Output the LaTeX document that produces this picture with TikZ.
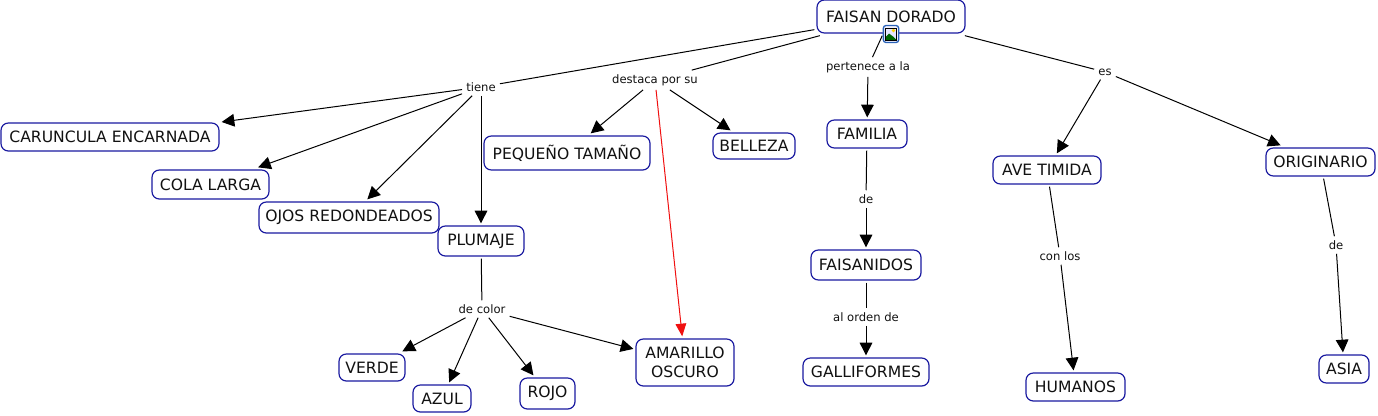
\documentclass[tikz,border=0pt]{standalone}
\usepackage{fontspec}
\setmainfont{DejaVu Sans}
\usepackage{xcolor}
\usetikzlibrary{arrows.meta}
\definecolor{conceptBlue}{HTML}{1A1AA0}
\definecolor{iconBlue}{HTML}{2A62B8}
\definecolor{ink}{HTML}{111111}
\definecolor{linkRed}{HTML}{F01010}

\begin{document}
\begin{tikzpicture}[x=0.75pt,y=-0.75pt,
  concept/.style={draw=conceptBlue,fill=white,line width=0.9pt,rounded corners=5.5pt,align=center,
    font=\fontsize{11.7}{14}\selectfont,text=ink,inner sep=0pt,outer sep=2pt},
  linklabel/.style={font=\fontsize{8.7}{10}\selectfont,text=ink,inner sep=3pt},
  link/.style={draw=black,line width=0.75pt},
  arrowlink/.style={link,-{Triangle[length=9.5pt,width=9.5pt]}},
  redlink/.style={draw=linkRed,line width=0.75pt,-{Triangle[length=9.5pt,width=8pt]}}]
\useasboundingbox (0,0) rectangle (1378,415);
\fill[white] (0,0) rectangle (1378,415);
% link labels
\node[linklabel] (tiene) at (481,87) {tiene};
\node[linklabel] (destaca) at (655,80) {destaca por su};
\node[linklabel] (pertenece) at (868,67) {pertenece a la};
\node[linklabel] (es) at (1105,72) {es};
\node[linklabel] (deFam) at (866,199) {de};
\node[linklabel] (orden) at (866,317) {al orden de};
\node[linklabel] (conLos) at (1060,256) {con los};
\node[linklabel] (deOrig) at (1336,245) {de};
\node[linklabel] (color) at (482,309) {de color};
% concepts
\node[concept,minimum width=111pt,minimum height=24.75pt] (faisan) at (891,16.5) {FAISAN DORADO};
\node[concept,minimum width=163.5pt,minimum height=21pt] (caruncula) at (110,137) {CARUNCULA ENCARNADA};
\node[concept,minimum width=87.75pt,minimum height=21.75pt] (cola) at (210.5,184.5) {COLA LARGA};
\node[concept,minimum width=135pt,minimum height=23.25pt] (ojos) at (349,217.5) {OJOS REDONDEADOS};
\node[concept,minimum width=64.5pt,minimum height=22.5pt] (plumaje) at (481,241) {PLUMAJE};
\node[concept,minimum width=124.5pt,minimum height=25.5pt] (pequeno) at (567,153) {PEQUEÑO TAMAÑO};
\node[concept,minimum width=61.5pt,minimum height=19.5pt] (belleza) at (754,146) {BELLEZA};
\node[concept,minimum width=60pt,minimum height=21pt] (familia) at (867,134) {FAMILIA};
\node[concept,minimum width=82.5pt,minimum height=22.5pt] (faisanidos) at (866,265) {FAISANIDOS};
\node[concept,minimum width=94.5pt,minimum height=21pt] (galliformes) at (866,372) {GALLIFORMES};
\node[concept,minimum width=81pt,minimum height=21pt] (ave) at (1047,170) {AVE TIMIDA};
\node[concept,minimum width=74.25pt,minimum height=21pt] (humanos) at (1075.5,387) {HUMANOS};
\node[concept,minimum width=81.75pt,minimum height=21pt] (originario) at (1320.5,162) {ORIGINARIO};
\node[concept,minimum width=37.5pt,minimum height=21pt] (asia) at (1344,369) {ASIA};
\node[concept,minimum width=49.5pt,minimum height=20.25pt] (verde) at (372,367.5) {VERDE};
\node[concept,minimum width=43.5pt,minimum height=20.25pt] (azul) at (442,398.5) {AZUL};
\node[concept,minimum width=41.25pt,minimum height=23.25pt] (rojo) at (547.5,393.5) {ROJO};
\node[concept,minimum width=73.5pt,minimum height=35.25pt] (amarillo) at (685,362.5) {AMARILLO\\OSCURO};
% links from the title
\draw[link] (faisan) -- (tiene);
\draw[link] (faisan) -- (destaca);
\draw[link] (faisan) -- (pertenece);
\draw[link] (faisan) -- (es);
% icon under the title
\node[draw=iconBlue,fill=blue!6,line width=1pt,rounded corners=2pt,minimum width=11.5pt,minimum height=12.75pt,inner sep=0pt] (icono) at (891,34) {};
\fill[blue!10] (885.5,28.5) rectangle (896.5,39.5);
\fill[green!40!black] (885.5,40) -- (885.5,37) -- (889,33.5) -- (893,36.5) -- (896.5,40) -- cycle;
\fill[yellow!70!orange] (893.5,30.5) circle (1.8);
\draw[black,line width=0.45pt] (885.5,28.5) rectangle (896.5,40);
% tiene
\draw[arrowlink] (tiene) -- (caruncula);
\draw[arrowlink] (tiene) -- (cola);
\draw[arrowlink] (tiene) -- (ojos);
\draw[arrowlink] (tiene) -- (plumaje);
% destaca por su
\draw[arrowlink] (destaca) -- (pequeno);
\draw[arrowlink] (destaca) -- (belleza);
\draw[redlink] (destaca) -- (amarillo);
% familia
\draw[arrowlink] (pertenece) -- (familia);
\draw[link] (familia) -- (deFam);
\draw[arrowlink] (deFam) -- (faisanidos);
\draw[link] (faisanidos) -- (orden);
\draw[arrowlink] (orden) -- (galliformes);
% es
\draw[arrowlink] (es) -- (ave);
\draw[arrowlink] (es) -- (originario);
\draw[link] (ave) -- (conLos);
\draw[arrowlink] (conLos) -- (humanos);
\draw[link] (originario) -- (deOrig);
\draw[arrowlink] (deOrig) -- (asia);
% plumaje
\draw[link] (plumaje) -- (color);
\draw[arrowlink] (color) -- (verde);
\draw[arrowlink] (color) -- (azul);
\draw[arrowlink] (color) -- (rojo);
\draw[arrowlink] (color) -- (amarillo);
\end{tikzpicture}
\end{document}
